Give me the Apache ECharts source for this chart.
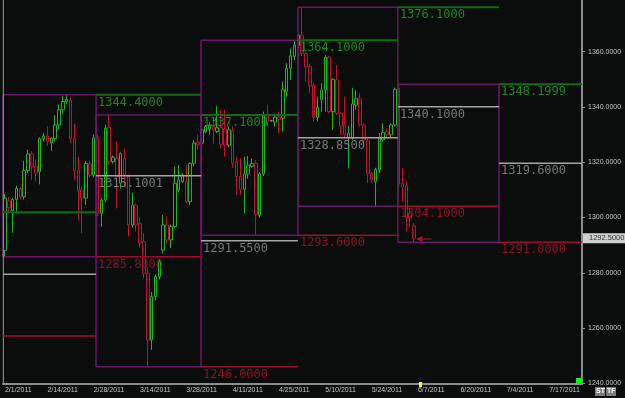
<!DOCTYPE html>
<html><head><meta charset="utf-8">
<script src="https://cdn.jsdelivr.net/npm/echarts@6/dist/echarts.min.js"></script>
<style>html,body{margin:0;padding:0;background:#0a0d0b}#c{width:625px;height:398px}</style>
</head><body><div id="c"></div><script>
// ---- data ----
const slotCount = 150;
const tickIndex = [0, 11, 23, 35, 47, 59, 71, 83, 95, 107, 118, 130, 141];
const tickText = ['2/1/2011','2/14/2011','2/28/2011','3/14/2011','3/28/2011','4/11/2011','4/25/2011','5/10/2011','5/24/2011','6/7/2011','6/20/2011','7/4/2011','7/17/2011'];

const opens = [1288,1306,1302.5,1306.5,1310.5,1307.5,1317,1323,1318.5,1316.5,1328.5,1329.5,1327,1328.5,1333.5,1339,1342,1342.5,1328.5,1317,1310,1307,1319.5,1315.3,
1328.7,1301.5,1306.3,1332.6,1320.2,1321.4,1312.4,1321.4,1314.8,1297.3,1304.5,1297.9,1291.3,1279.8,1255.7,1271.4,1278.6,1288.2,1297.3,1291.9,1296.7,1310,1313,1313,1305.7,1319.6,
1327.3,1326.9,1331.1,1332,1332.9,1331.1,1332.5,1332,1326.2,1331.3,1320.2,1314.8,1310.2,1315.8,1318.5,1319.6,1300.7,1315.8,1337.3,1335,1334.5,1336.3,1335.9,1345.6,1354,1358.3,
1362.4,1366,1359.4,1354.6,1348,1336.2,1342.8,1346.1,1358,1338.3,1349.8,1337.7,1333.5,1328.7,1328.7,1340.7,1343,1333.5,1327.8,1316,1313,1317.2,1328.1,1331.1,1329.9,1333.5,
1346.8,1312.4,1311.5,1301.5,1297];
const highs = [1308.5,1307.5,1307,1311.5,1311,1320.5,1324.5,1324,1321,1329,1330.5,1333,1329,1337,1341,1344,1344.4,1343.5,1334,1322,1311,1320.5,1320.5,1330,
1330,1307,1333.5,1337.1,1322.5,1327.5,1323.5,1325,1315.5,1309,1305,1300.3,1294.3,1282,1273,1279.5,1285,1300.9,1300.3,1297.5,1318.4,1319,1316,1319,1320,1328,
1330,1337.5,1333.5,1334.5,1336.3,1340.4,1339,1339,1333,1333,1322,1321.4,1322,1322.2,1321.3,1320.8,1316.5,1338.3,1340.7,1335.3,1337,1338.3,1349.2,1355.8,1361.2,1364.1,
1366.5,1376.1,1360,1355.5,1349,1343.7,1348.6,1358.8,1358.5,1350.4,1355.2,1338,1343.7,1333.1,1346.8,1346.1,1344.9,1334,1328.5,1316.5,1318,1330.5,1334.1,1332.3,1334.1,1347,
1348.1999,1318,1313,1303.5,1298];
const lows = [1285.8,1301.5,1294.5,1302,1306.5,1306.5,1316,1313.5,1313,1312,1327.5,1326,1324,1327.5,1332,1337.5,1341,1327,1313.5,1299,1294.3,1304.5,1314.5,1314.5,
1300.5,1296.7,1305.5,1319,1319.5,1303.3,1310.5,1311,1293.1,1296.5,1294.9,1289,1278,1246,1252.1,1270,1277.5,1287,1290.5,1289,1296,1309,1312.5,1305,1304.5,1318.5,
1324.5,1326,1330.5,1330,1326.8,1330.5,1325,1322,1325.5,1318,1308.2,1308.2,1301.5,1314,1318,1293.6,1300,1315,1332.9,1334.8,1332.9,1330.5,1331.1,1343.7,1349.8,1357,
1361,1358.5,1349.2,1344.9,1334.7,1334.7,1338.3,1338.3,1337.7,1331.7,1337.1,1329.9,1329,1317.8,1328.1,1339,1332.9,1326,1312.4,1312.4,1304.1,1316,1327.5,1329.3,1329,1333,
1311,1305.5,1295,1296.5,1291];
const closes = [1307,1303.5,1306.5,1310.5,1307.5,1317,1323,1318.5,1316,1328.5,1329.5,1327.5,1328.7,1333.5,1339,1342,1342.8,1328.5,1317,1309.5,1307,1319.5,1315.3,1328.7,
1301.5,1306.3,1332.3,1320.2,1321.8,1314.8,1323.2,1315.4,1297.3,1304.5,1297.3,1290.7,1279.8,1255.7,1271.4,1278.6,1284,1297.3,1291.9,1296.7,1312.4,1313.6,1315.4,1305.7,1319.6,1326.9,
1326.3,1331.7,1332.9,1333.5,1331.7,1332.5,1326.5,1326.2,1331.7,1319.6,1314.8,1310.2,1315.8,1319,1319.5,1301.1,1315.8,1337.1,1334.7,1335,1336.3,1335.5,1346.2,1354,1358.5,1362.4,
1366,1359.4,1354.6,1347.6,1336.2,1339.9,1346.1,1358,1338.3,1350,1337.7,1333.1,1329.9,1330.5,1341.1,1343,1333.5,1328,1316,1313.6,1317.4,1328.7,1330.7,1329.9,1333.5,1346.4,
1312,1311,1300,1299.8,1292.5];

// monthly periods (bar-index edges) and previous month's high / mid / low levels
const periodEdges = [-0.5, 23.6, 50.8, 75.9, 101.8, 128.0, 149.5];
const prevHigh = [1301.9, 1344.4, 1337.1, 1364.1, 1376.1, 1348.1999];
const prevMid  = [1279.5, 1315.1001, 1291.55, 1328.85, 1340.1, 1319.6];
const prevLow  = [1257.1, 1285.8, 1246.0, 1293.6, 1304.1, 1291.0];
const levelLabelShown = [false, true, true, true, true, true];
const lastPrice = 1292.5;
const lastBar = 106;

// ---- styles ----
const BG = '#0a0d0b';
const UP = '#22b222', DOWN = '#c4102e';
const C_GREEN_LINE = '#0e6e0e', C_GREEN_TXT = '#1fa51f';
const C_GREY_LINE = '#a4a4a4', C_GREY_TXT = '#909090';
const C_RED_LINE = '#98102e', C_RED_TXT = '#b0102c';
const C_BOX = '#6a1668';
const MONO = '"DejaVu Sans Mono", "Liberation Mono", monospace';

const categories = [];
for (let i = 0; i < slotCount; i++) categories.push(String(i));
const candleData = opens.map((o, i) => [o, closes[i], lows[i], highs[i]]);

const series = [];
series.push({
  type: 'candlestick', xAxisIndex: 0, yAxisIndex: 0, barWidth: 3, z: 2,
  data: candleData,
  itemStyle: { color: BG, color0: BG, borderColor: UP, borderColor0: DOWN, borderColorDoji: '#9a9a9a', borderWidth: 1 }
});
function seg(points, color, width, z) {
  series.push({ type: 'line', xAxisIndex: 1, yAxisIndex: 0, data: points, symbol: 'none', silent: true,
    lineStyle: { color: color, width: width }, z: z, animation: false });
}
// boxes: month k spans prevHigh[k+1]..prevLow[k+1]
for (let k = 0; k < periodEdges.length - 2; k++) {
  const x1 = periodEdges[k], x2 = periodEdges[k + 1];
  const top = prevHigh[k + 1], bot = prevLow[k + 1];
  seg([[x1, top], [x2, top], [x2, bot], [x1, bot], [x1, top]], C_BOX, 1.5, 3);
}
// left grey border line
seg([[-0.42, 1240], [-0.42, 1378.7]], '#9c9c9c', 1, 3);
// level lines
const labelPts = [];
for (let k = 0; k < periodEdges.length - 1; k++) {
  const x1 = periodEdges[k], x2 = periodEdges[k + 1];
  seg([[x1, prevHigh[k]], [x2, prevHigh[k]]], C_GREEN_LINE, 2, 4);
  seg([[x1, prevMid[k]], [x2, prevMid[k]]], C_GREY_LINE, 1.5, 4);
  seg([[x1, prevLow[k]], [x2, prevLow[k]]], C_RED_LINE, 1.5, 4);
  if (levelLabelShown[k]) {
    labelPts.push({ value: [x1, prevHigh[k]], label: { color: C_GREEN_TXT } });
    labelPts.push({ value: [x1, prevMid[k]], label: { color: C_GREY_TXT } });
    labelPts.push({ value: [x1, prevLow[k]], label: { color: C_RED_TXT } });
  }
}
series.push({
  type: 'scatter', xAxisIndex: 1, yAxisIndex: 0, symbolSize: 0, z: 5, silent: true, data: labelPts,
  label: { show: true, position: 'right', distance: 0, offset: [2, 8],
    formatter: p => p.value[1].toFixed(4), fontFamily: MONO, fontSize: 12 }
});
// last price tag on the axis
series.push({
  type: 'scatter', xAxisIndex: 1, yAxisIndex: 0, symbolSize: 0, z: 6, silent: true, clip: false,
  data: [[149.5, lastPrice]],
  label: { show: true, position: 'right', distance: 1, formatter: p => p.value[1].toFixed(4),
    backgroundColor: '#ffffff', color: '#000000', fontSize: 7.5, fontFamily: 'Liberation Sans, Arial, sans-serif',
    padding: [1, 4, 1, 6] }
});
// arrow pointing at the last bar
series.push({
  type: 'line', xAxisIndex: 1, yAxisIndex: 0, z: 6, silent: true,
  data: [{ value: [lastBar + 0.75, lastPrice - 0.3], symbol: 'arrow', symbolSize: [5, 6], symbolRotate: 90 },
         { value: [lastBar + 4.5, lastPrice - 0.3], symbol: 'none' }],
  lineStyle: { color: DOWN, width: 1 }, itemStyle: { color: DOWN }
});

const chart = echarts.init(document.getElementById('c'), null, { renderer: 'canvas' });
chart.setOption({
  backgroundColor: BG,
  animation: false,
  grid: { left: 3, right: 43, top: 0, bottom: 14.7 },
  xAxis: [{
    type: 'category', data: categories, boundaryGap: true,
    axisLine: { onZero: false, lineStyle: { color: '#8c8c8c', width: 2 } },
    axisTick: { alignWithLabel: true, length: 3, interval: (i) => tickIndex.indexOf(i) >= 0, lineStyle: { color: '#8c8c8c' } },
    axisLabel: { interval: (i) => tickIndex.indexOf(i) >= 0, formatter: (v, i) => tickText[tickIndex.indexOf(i)] || '',
      align: 'left', color: '#c4c4c4', fontSize: 7, margin: 3, fontFamily: 'Liberation Sans, Arial, sans-serif' },
    splitLine: { show: false }
  }, {
    type: 'value', min: -0.5, max: 149.5, show: false, axisLine: { onZero: false }
  }],
  yAxis: [{
    type: 'value', position: 'right', min: 1240, max: 1378.7, interval: 20, scale: true,
    axisLine: { show: true, onZero: false, lineStyle: { color: '#8c8c8c', width: 2 } },
    axisTick: { show: true, length: 3, lineStyle: { color: '#8c8c8c' } },
    axisLabel: { color: '#c4c4c4', fontSize: 7, margin: 6, fontFamily: 'Liberation Sans, Arial, sans-serif',
      formatter: v => (Math.abs(v / 20 - Math.round(v / 20)) < 1e-6 ? v.toFixed(4) : ''), showMaxLabel: false },
    splitLine: { show: false }
  }],
  series: series,
  graphic: [
    { type: 'rect', shape: { x: 419, y: 382, width: 3, height: 5 }, style: { fill: '#ffff00' }, z: 10 },
    { type: 'rect', shape: { x: 576, y: 378, width: 6, height: 6 }, style: { fill: '#00ff00' }, z: 10 },
    { type: 'rect', shape: { x: 595, y: 387, width: 10, height: 9 }, style: { fill: '#7c7c7c' }, z: 10 },
    { type: 'rect', shape: { x: 606, y: 387, width: 10, height: 9 }, style: { fill: '#7c7c7c' }, z: 10 },
    { type: 'text', x: 596, y: 388, style: { text: 'ST', fill: '#ffffff', fontSize: 7, fontWeight: 'bold', fontFamily: 'Liberation Sans, Arial' }, z: 11 },
    { type: 'text', x: 607, y: 388, style: { text: 'TF', fill: '#ffffff', fontSize: 7, fontWeight: 'bold', fontFamily: 'Liberation Sans, Arial' }, z: 11 }
  ]
});
</script></body></html>
